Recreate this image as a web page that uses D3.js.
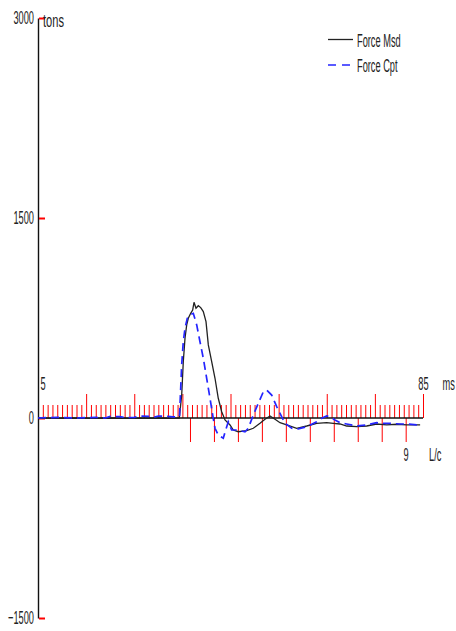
<!DOCTYPE html>
<html>
<head>
<meta charset="utf-8">
<script src="https://cdn.jsdelivr.net/npm/d3@7"></script>
<style>
  html, body { margin: 0; padding: 0; background: #fff; }
  svg { display: block; }
  text { font-family: "Liberation Sans", Arial, sans-serif; font-size: 18.5px; fill: #222; }
</style>
</head>
<body>
<svg id="chart" width="456" height="631"></svg>
<script>
// force values (time in ms, force in tons)
var msdTime  = [5, 8, 12, 16, 20, 24, 28, 32, 34.36, 34.86, 35.19, 35.55, 35.9, 36.23, 36.73, 37.14, 37.42, 37.83, 38.31, 38.81, 39.35, 39.91, 40.39, 41.09, 41.78, 42.46, 43.17, 43.86, 44.9, 45.58, 46.62, 48.37, 49.74, 51.13, 52.17, 53.21, 54.25, 55.29, 56.68, 58.76, 60.83, 62.91, 64.99, 66.36, 67.75, 69.14, 71.22, 73.3, 75.38, 77.46, 79.54, 81.61, 84.4];
var msdForce = [0, -3, 0, -3, 0, -3, 0, -2, 0, 172, 422, 600, 698, 748, 785, 810, 868, 823, 842, 828, 798, 723, 548, 422, 298, 148, 47, -15, -52, -90, -103, -95, -77, -40, -10, 15, -10, -35, -52, -77, -60, -40, -35, -40, -45, -60, -65, -60, -45, -52, -47, -52, -52];

var cptTime  = [5, 9, 13, 17, 19, 20, 22, 23, 25, 26, 28, 29, 30, 32, 33, 34.4, 34.86, 35.19, 35.55, 36.02, 36.58, 37.27, 37.98, 38.66, 39.35, 40.05, 40.74, 41.3, 41.78, 42.46, 43.5, 44.0, 44.54, 45.23, 46.27, 48.01, 48.69, 49.74, 50.78, 51.82, 52.52, 53.56, 54.6, 55.29, 56.33, 57.72, 59.09, 60.83, 62.91, 63.95, 64.99, 65.68, 66.71, 67.75, 69.14, 71.22, 73.3, 75.38, 76.75, 78.14, 80.22, 81.61, 83.69, 84.4];
var cptForce = [0, 5, 0, 5, 0, 12, 10, 3, 5, 15, 12, 5, 15, 12, 8, 10, 400, 572, 675, 748, 773, 785, 698, 572, 448, 298, 148, 22, -77, -128, -152, -90, -28, -90, -90, -103, -77, 22, 110, 197, 210, 172, 85, 35, -40, -77, -82, -65, -28, -2, 15, 10, -15, -35, -45, -60, -52, -35, -40, -40, -45, -45, -52, -50];

var yTicks = [3000, 1500, 0, -1500];
var msTicks = d3.range(5, 86);      // one tick per ms
var msLabels = [5, 85];
var lcTicks = d3.range(0, 10);      // L/c marks
var lcStart = 36.58, lcPeriod = 4.98;  // ms
var legendNames = ["Force Msd", "Force Cpt"];

var svg = d3.select("#chart");
var sx = 0.5; // the picture's text is squeezed horizontally

var x = d3.scaleLinear().domain([5, 85]).range([38, 423]);
var y = d3.scaleLinear().domain([-1500, 3000]).range([618, 18]);
var lc = d3.scaleLinear().domain([0, 9]).range([x(lcStart), x(lcStart + 9 * lcPeriod)]);

function label(txt, px, py, anchor, scale) {
  svg.append("text")
    .attr("transform", "translate(" + px + "," + py + ") scale(" + (scale || sx) + ",1)")
    .attr("text-anchor", anchor || "start")
    .text(txt);
}

// ms ticks pointing up from the zero line
var msAxis = svg.append("g")
  .attr("transform", "translate(0," + y(0) + ")")
  .call(d3.axisTop(x).tickValues(msTicks).tickSize(13).tickSizeOuter(0)
    .tickFormat(function(d) { return msLabels.indexOf(d) >= 0 ? d : ""; }));
msAxis.select(".domain").remove();
msAxis.selectAll(".tick line").attr("stroke", "#f00")
  .attr("y2", function(d) { return d % 10 === 5 ? -24 : -13; });
msAxis.selectAll(".tick text")
  .attr("y", 0).attr("dy", 0)
  .attr("transform", function(d) { return "translate(" + (d === 5 ? 4.5 : 0) + ",-28.5) scale(" + sx + ",1)"; });

// L/c ticks pointing down
var lcAxis = svg.append("g")
  .attr("transform", "translate(0," + y(0) + ")")
  .call(d3.axisBottom(lc).tickValues(lcTicks).tickSize(24).tickPadding(6)
    .tickFormat(function(d) { return d === 9 ? d : ""; }));
lcAxis.select(".domain").remove();
lcAxis.selectAll(".tick line").attr("stroke", "#f00");
lcAxis.selectAll(".tick text").attr("transform", "scale(" + sx + ",1)");

// zero line
svg.append("line")
  .attr("x1", x(5)).attr("x2", x(85))
  .attr("y1", y(0)).attr("y2", y(0))
  .attr("stroke", "#111").attr("stroke-width", 1.5);

// force axis
var yAxis = svg.append("g")
  .attr("transform", "translate(" + x(5) + ",0)")
  .call(d3.axisLeft(y).tickValues(yTicks).tickSize(-7).tickSizeOuter(0).tickFormat(d3.format("d")));
yAxis.select(".domain").attr("stroke", "#111").attr("stroke-width", 1.4);
yAxis.selectAll(".tick line").attr("stroke", "#f00").attr("stroke-width", 2)
  .attr("x1", 1);
yAxis.selectAll(".tick text")
  .attr("x", -4 / sx)
  .attr("transform", "scale(" + sx + ",1)");

label("tons", 43, 27, "start", 0.6);
label("ms", 442.5, 389.5, "start", 0.5);
label("L/c", 429, 461);

var line = d3.line().x(function(d) { return x(d[0]); }).y(function(d) { return y(d[1]); });

var msd = d3.zip(msdTime, msdForce);
var cpt = d3.zip(cptTime, cptForce);

svg.append("path").datum(msd)
  .attr("fill", "none").attr("stroke", "#222").attr("stroke-width", 1.3)
  .attr("d", line);

svg.append("path").datum(cpt)
  .attr("fill", "none").attr("stroke", "#2424ff").attr("stroke-width", 1.7)
  .attr("stroke-dasharray", "8,5")
  .attr("d", line);

// legend
var lg = svg.append("g");
lg.append("line").attr("x1", 328).attr("x2", 353).attr("y1", 39.5).attr("y2", 39.5)
  .attr("stroke", "#222").attr("stroke-width", 1.3);
lg.append("line").attr("x1", 328).attr("x2", 353).attr("y1", 65).attr("y2", 65)
  .attr("stroke", "#2424ff").attr("stroke-width", 1.7).attr("stroke-dasharray", "8,6");
label(legendNames[0], 357, 46.5);
label(legendNames[1], 357, 72);
</script>
</body>
</html>
